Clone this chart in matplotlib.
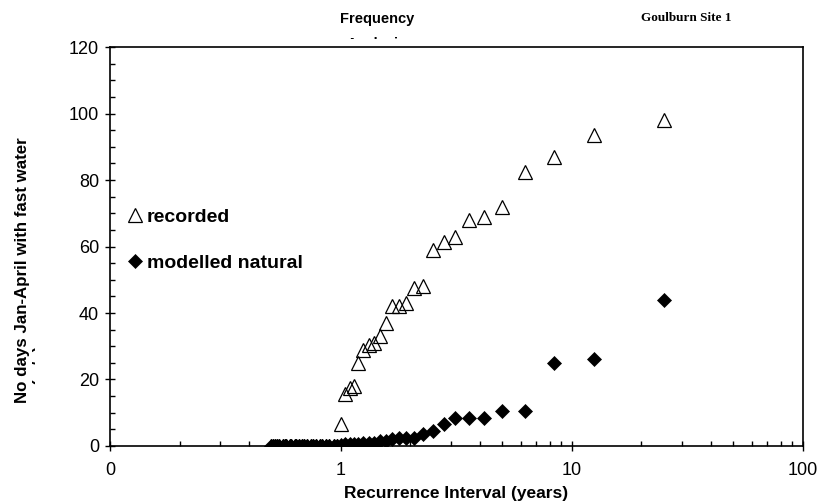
import matplotlib
matplotlib.use("Agg")
import matplotlib.pyplot as plt
from matplotlib.transforms import Bbox, TransformedBbox

plt.rcParams["font.family"] = ["Liberation Sans", "DejaVu Sans"]

# recurrence interval (years) for each ranked value
recurrence = [25, 12.5, 8.33, 6.25, 5.0, 4.17, 3.57, 3.13, 2.78, 2.5,
              2.27, 2.08, 1.92, 1.79, 1.67, 1.56, 1.47, 1.39, 1.32, 1.25,
              1.19, 1.14, 1.09, 1.04, 1.0, 0.96, 0.93, 0.89, 0.86, 0.83,
              0.81, 0.78, 0.76, 0.74, 0.71, 0.69, 0.68, 0.66, 0.64, 0.63,
              0.61, 0.60, 0.58, 0.57, 0.56, 0.54, 0.53, 0.52, 0.51, 0.50]

recorded = [98, 93.5, 87, 82.5, 72, 69, 68, 63, 61.5, 59,
            48, 47.5, 43, 42, 42, 37, 33, 31, 30.5, 29,
            25, 18, 17.5, 15.5, 6.5, 0, 0, 0, 0, 0,
            0, 0, 0, 0, 0, 0, 0, 0, 0, 0,
            0, 0, 0, 0, 0, 0, 0, 0, 0, 0]

modelled = [44, 26.2, 25, 10.5, 10.5, 8.5, 8.5, 8.5, 6.5, 4.5,
            3.5, 2.5, 2.5, 2.5, 2, 1.5, 1.5, 1, 1, 1,
            0.5, 0.5, 0.5, 0.5, 0.3, 0, 0, 0, 0, 0,
            0, 0, 0, 0, 0, 0, 0, 0, 0, 0,
            0, 0, 0, 0, 0, 0, 0, 0, 0, 0]

xticks = [0.1, 1, 10, 100]
xtick_labels = ["0", "1", "10", "100"]
yticks = [0, 20, 40, 60, 80, 100, 120]

W, H = 822, 504
fig = plt.figure(figsize=(W / 100, H / 100), dpi=100)
ax = fig.add_axes([0.1338, 0.1151, 0.843, 0.7916])

ax.plot(recurrence, recorded, linestyle="none", marker="^", markersize=9.5,
        markerfacecolor="none", markeredgecolor="black", markeredgewidth=0.9,
        label="recorded")
ax.plot(recurrence, modelled, linestyle="none", marker="D", markersize=6.8,
        markerfacecolor="black", markeredgecolor="black", markeredgewidth=0.5,
        label="modelled natural")

ax.set_xscale("log")
ax.set_xlim(0.1, 100)
ax.set_ylim(0, 120)
ax.set_xticks(xticks)
ax.set_xticklabels(xtick_labels)
ax.set_yticks(yticks)
ax.yaxis.set_minor_locator(matplotlib.ticker.MultipleLocator(5))
ax.xaxis.set_minor_formatter(matplotlib.ticker.NullFormatter())

for s in ax.spines.values():
    s.set_linewidth(1.2)
ax.tick_params(axis="both", which="major", direction="inout", length=7.5,
               width=1.0, labelsize=13, pad=4)
ax.tick_params(axis="both", which="minor", direction="in", length=3.8, width=1.0)
ax.tick_params(axis="x", which="major", pad=8)

ax.set_xlabel("Recurrence Interval (years)", fontsize=12.5, fontweight="bold",
              labelpad=5)

# y label; its second line is cut off in the original
fig.text(23 / W, 1 - 270 / H, "No days Jan-April with fast water",
         rotation=90, ha="center", va="center", fontsize=12.2, fontweight="bold")
yl2 = fig.text(40 / W, 1 - 365 / H, "(m/s)", rotation=90, ha="center",
               va="center", fontsize=12.2, fontweight="bold")
yl2.set_clip_box(TransformedBbox(Bbox([[0, 0], [35 / W, 1]]), fig.transFigure))

# title, second line cut off as well
fig.text(377 / W, 1 - 19 / H, "Frequency", ha="center", va="center",
         fontsize=10.5, fontweight="bold")
t2 = fig.text(377 / W, 1 - 44 / H, "Analysis", ha="center", va="center",
              fontsize=10.5, fontweight="bold")
t2.set_clip_box(TransformedBbox(Bbox([[0, 1 - 38.5 / H], [1, 1]]), fig.transFigure))

fig.text(686 / W, 1 - 18 / H, "Goulburn Site 1", ha="center", va="center",
         fontsize=9.5, fontweight="bold", family=["Liberation Serif", "DejaVu Serif"])

ax.legend(loc="upper left", bbox_to_anchor=(0.028, 0.595), frameon=False,
          prop={"weight": "bold", "size": 14}, handlelength=0.6,
          handletextpad=0.3, labelspacing=1.45, borderpad=0, borderaxespad=0)

fig.savefig("out.png", dpi=100)
